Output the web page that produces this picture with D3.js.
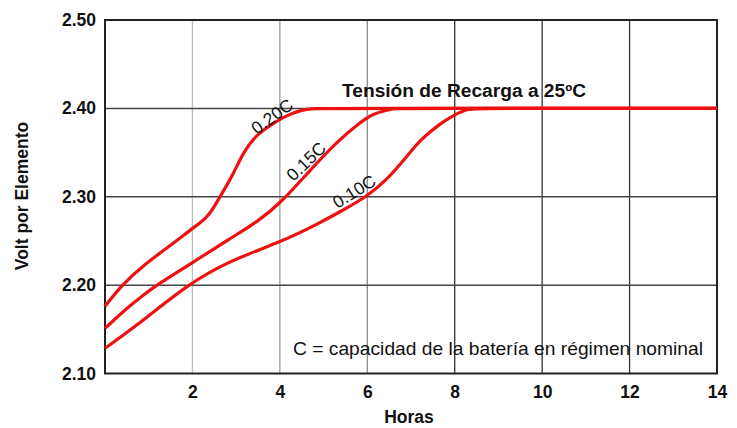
<!DOCTYPE html>
<html>
<head>
<meta charset="utf-8">
<script src="https://cdn.jsdelivr.net/npm/d3@7"></script>
<style>
  body { margin: 0; background: #fff; }
  svg { display: block; font-family: "Liberation Sans", Arial, sans-serif; }
</style>
</head>
<body>
<div class="chart"></div>
<script>
// values
const xTicks = [2, 4, 6, 8, 10, 12, 14];
const yTicks = [2.10, 2.20, 2.30, 2.40, 2.50];

const hours20 = [0, 0.38, 0.88, 1.5, 2.02, 2.17, 2.4, 2.63, 2.94, 3.17, 3.48, 3.85, 4.16, 4.46, 4.76, 5.2, 14];
const volts20 = [2.176, 2.200, 2.2226, 2.245, 2.265, 2.270, 2.280, 2.300, 2.326, 2.351, 2.371, 2.383, 2.392, 2.3977, 2.400, 2.400, 2.400];

const hours15 = [0, 0.5, 0.88, 1.18, 2.02, 2.86, 3.5, 4.04, 4.69, 5.3, 5.84, 6.14, 6.44, 6.65, 7.0, 14];
const volts15 = [2.151, 2.174, 2.189, 2.200, 2.226, 2.2528, 2.272, 2.294, 2.330, 2.362, 2.3845, 2.394, 2.398, 2.400, 2.400, 2.400];

const hours10 = [0, 0.88, 1.87, 2.86, 4.04, 4.9, 5.45, 5.98, 6.44, 6.9, 7.2, 7.67, 7.97, 8.3, 8.7, 14];
const volts10 = [2.1285, 2.160, 2.200, 2.228, 2.249, 2.270, 2.285, 2.300, 2.3186, 2.345, 2.364, 2.383, 2.392, 2.400, 2.400, 2.400];

const seriesNames = ["0.20C", "0.15C", "0.10C"];

const width = 737;
const height = 428;
const plotLeft = 105, plotRight = 717, plotTop = 20, plotBottom = 373.5;

const svg = d3.select(".chart")
  .append("svg")
  .attr("width", width)
  .attr("height", height)
  .style("background-color", "#FFFFFF");

const xScale = d3.scaleLinear().domain([0, 14]).range([plotLeft, plotRight]);
const yScale = d3.scaleLinear().domain([2.10, 2.50]).range([plotBottom, plotTop]);

// vertical grid (lighter on the left in the original scan)
const vColor = {2: "#bdbdbd", 4: "#9a9a9a", 6: "#8a8a8a", 8: "#333", 10: "#333", 12: "#333"};
svg.append("g")
  .selectAll("line")
  .data(xTicks.filter(d => d < 14))
  .enter()
  .append("line")
  .attr("x1", d => xScale(d))
  .attr("x2", d => xScale(d))
  .attr("y1", plotTop)
  .attr("y2", plotBottom)
  .attr("stroke", d => vColor[d])
  .attr("stroke-width", 1.3);

// horizontal grid
svg.append("g")
  .selectAll("line")
  .data(yTicks.filter(d => d > 2.10 && d < 2.50))
  .enter()
  .append("line")
  .attr("x1", plotLeft)
  .attr("x2", plotRight)
  .attr("y1", d => yScale(d))
  .attr("y2", d => yScale(d))
  .attr("stroke", "#444")
  .attr("stroke-width", 1.5);

// frame
svg.append("rect")
  .attr("x", plotLeft)
  .attr("y", plotTop)
  .attr("width", plotRight - plotLeft)
  .attr("height", plotBottom - plotTop)
  .attr("fill", "none")
  .attr("stroke", "#222")
  .attr("stroke-width", 2);

// axes (labels only)
const xAxis = d3.axisBottom(xScale).tickValues(xTicks).tickSize(0).tickPadding(12).tickFormat(d3.format("d"));
const yAxis = d3.axisLeft(yScale).tickValues(yTicks).tickSize(0).tickPadding(9).tickFormat(d3.format(".2f"));

const gx = svg.append("g")
  .attr("id", "x-axis")
  .attr("transform", "translate(0, " + plotBottom + ")")
  .call(xAxis);
const gy = svg.append("g")
  .attr("id", "y-axis")
  .attr("transform", "translate(" + plotLeft + ", 0)")
  .call(yAxis);
[gx, gy].forEach(g => {
  g.select(".domain").remove();
  g.selectAll("text")
    .style("font-family", "'Liberation Sans', Arial, sans-serif")
    .style("font-size", "17.5px")
    .style("font-weight", "bold")
    .attr("fill", "#111");
});

// axis titles
svg.append("text")
  .attr("x", 409)
  .attr("y", 423)
  .attr("text-anchor", "middle")
  .style("font-size", "17.5px")
  .style("font-weight", "bold")
  .attr("fill", "#111")
  .text("Horas");

svg.append("text")
  .attr("transform", "translate(28, 196) rotate(-90)")
  .attr("text-anchor", "middle")
  .style("font-size", "17.5px")
  .style("font-weight", "bold")
  .attr("fill", "#111")
  .text("Volt por Elemento");

// curves
const line = d3.line()
  .x(d => xScale(d[0]))
  .y(d => yScale(d[1]))
  .curve(d3.curveBasis);

const curves = [
  d3.zip(hours20, volts20),
  d3.zip(hours15, volts15),
  d3.zip(hours10, volts10)
];

svg.append("g")
  .selectAll("path")
  .data(curves)
  .enter()
  .append("path")
  .attr("d", line)
  .attr("fill", "none")
  .attr("stroke", "#ee1111")
  .attr("stroke-width", 3.2)
  .attr("stroke-linejoin", "round");

// curve labels
const labelAt = [[3.82, 2.391, -36], [4.6, 2.340, -44], [5.7, 2.306, -32]];
svg.append("g")
  .selectAll("text")
  .data(seriesNames)
  .enter()
  .append("text")
  .attr("transform", (d, i) => "translate(" + xScale(labelAt[i][0]) + "," + yScale(labelAt[i][1]) + ") rotate(" + labelAt[i][2] + ")")
  .attr("text-anchor", "middle")
  .attr("dy", "0.35em")
  .style("font-size", "17.5px")
  .attr("fill", "#111")
  .text(d => d);

// annotations
svg.append("text")
  .attr("x", 342)
  .attr("y", 96.5)
  .attr("textLength", 244)
  .attr("lengthAdjust", "spacingAndGlyphs")
  .style("font-size", "18px")
  .style("font-weight", "bold")
  .attr("fill", "#111")
  .text("Tensión de Recarga a 25ºC");

svg.append("text")
  .attr("x", 293)
  .attr("y", 355)
  .attr("textLength", 410)
  .attr("lengthAdjust", "spacingAndGlyphs")
  .style("font-size", "19px")
  .attr("fill", "#111")
  .text("C = capacidad de la batería en régimen nominal");
</script>
</body>
</html>
